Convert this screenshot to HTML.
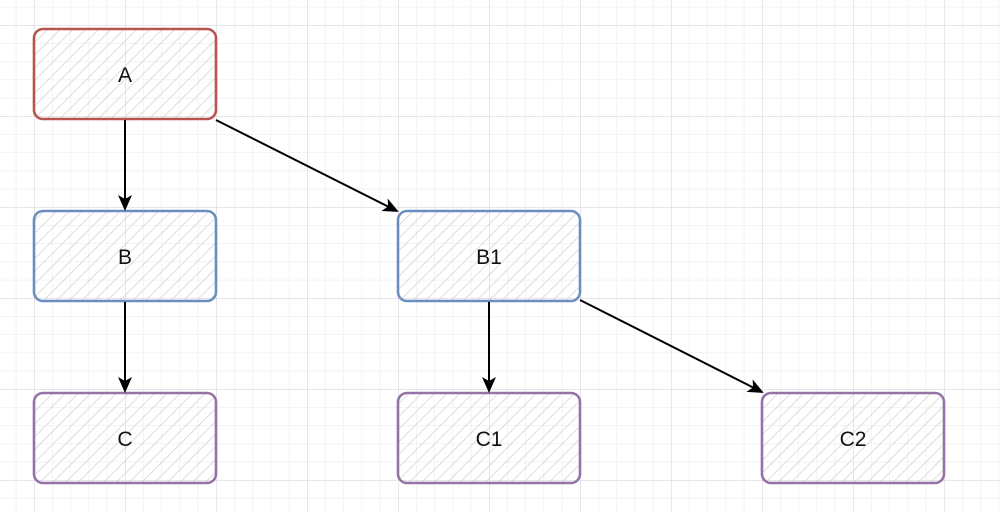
<!DOCTYPE html>
<html><head><style>
html,body{margin:0;padding:0;background:#fff;}
body{width:1000px;height:512px;overflow:hidden;}
</style></head><body>
<svg width="1000" height="512" xmlns="http://www.w3.org/2000/svg" font-family="Liberation Sans, sans-serif">
<defs>
<pattern id="minor" x="34" y="25" width="18.2" height="18.2" patternUnits="userSpaceOnUse">
<path d="M0 0H18.2M0 0V18.2" stroke="#e8e8ee" stroke-width="1" fill="none"/>
</pattern>
<pattern id="major" x="34" y="25" width="91" height="91" patternUnits="userSpaceOnUse">
<path d="M0 0H91M0 0V91" stroke="#d6d6de" stroke-width="1.2" fill="none"/>
</pattern>
<pattern id="hatch" width="9" height="9" patternUnits="userSpaceOnUse" patternTransform="rotate(45)">
<line x1="0" y1="0" x2="0" y2="9" stroke="#cfcfcf" stroke-width="1.4"/>
</pattern>
<marker id="ar" markerWidth="16" markerHeight="16" refX="14" refY="8" orient="auto" markerUnits="userSpaceOnUse">
<path d="M0 1L16 8L0 15L4 8Z" fill="#000"/>
</marker>
</defs>
<rect width="1000" height="512" fill="url(#minor)"/>
<rect width="1000" height="512" fill="url(#major)"/>
<g stroke-width="2.6">
<rect x="34" y="29" width="182" height="90" rx="9" fill="url(#hatch)" stroke="#b85450"/>
<rect x="34" y="211" width="182" height="90" rx="9" fill="url(#hatch)" stroke="#6c8ebf"/>
<rect x="398" y="211" width="182" height="90" rx="9" fill="url(#hatch)" stroke="#6c8ebf"/>
<rect x="34" y="393" width="182" height="90" rx="9" fill="url(#hatch)" stroke="#9673a6"/>
<rect x="398" y="393" width="182" height="90" rx="9" fill="url(#hatch)" stroke="#9673a6"/>
<rect x="762" y="393" width="182" height="90" rx="9" fill="url(#hatch)" stroke="#9673a6"/>
</g>
<g stroke="#000" stroke-width="2" marker-end="url(#ar)">
<line x1="125" y1="120" x2="125" y2="209"/>
<line x1="216" y1="120" x2="397" y2="211"/>
<line x1="125" y1="302" x2="125" y2="391"/>
<line x1="489" y1="302" x2="489" y2="391"/>
<line x1="580" y1="300" x2="762" y2="392"/>
</g>
<g font-size="21" text-anchor="middle" fill="#111">
<text x="125" y="82">A</text>
<text x="125" y="264">B</text>
<text x="489" y="264">B1</text>
<text x="125" y="446">C</text>
<text x="489" y="446">C1</text>
<text x="853" y="446">C2</text>
</g>
</svg>
</body></html>
